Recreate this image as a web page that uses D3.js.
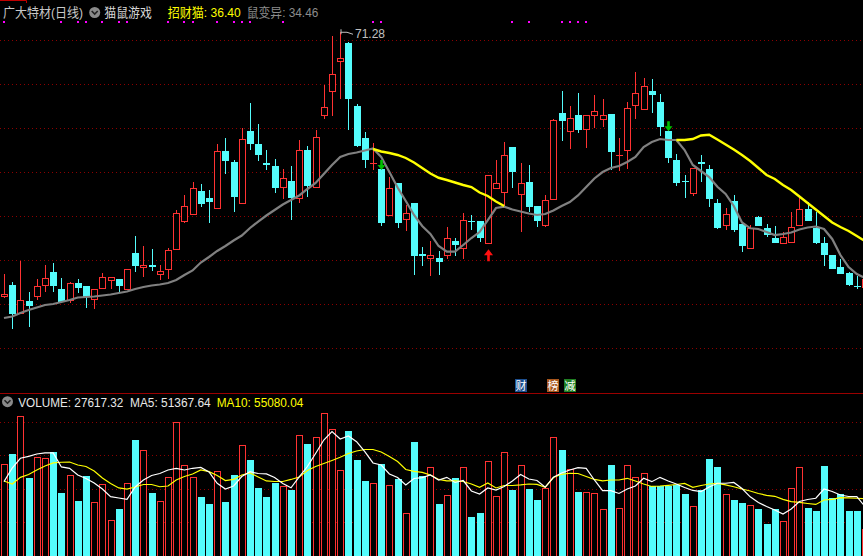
<!DOCTYPE html>
<html><head><meta charset="utf-8">
<script src="https://cdn.jsdelivr.net/npm/d3@7"></script>
<style>html,body{margin:0;padding:0;background:#000;overflow:hidden}</style>
</head><body><svg id="c" width="863" height="556"></svg>
<script>
// ---------- DATA ----------
const open = [27.38,29.16,24.44,26.49,27.38,29.21,31.33,28.44,26.61,29.49,
28.99,26.78,28.71,30.04,30.16,28.54,34.49,32.11,32.49,31.04,
31.78,35.11,39.78,40.94,44.83,43.66,41.94,51.49,49.66,42.78,
54.83,52.66,49.54,48.99,45.44,46.49,43.61,51.66,45.44,57.54,
61.54,66.54,69.54,58.99,53.66,49.44,48.44,40.83,46.16,40.21,
42.83,34.38,33.71,33.66,34.11,36.44,35.28,39.83,39.83,36.11,
45.38,44.71,52.11,44.28,46.33,42.33,39.11,43.44,57.83,54.78,
57.49,55.21,57.44,56.78,57.66,50.71,51.74,59.21,58.54,61.44,
59.66,54.88,49.99,46.49,44.54,49.71,48.49,42.83,39.21,43.16,
39.33,35.38,40.54,38.61,37.04,36.21,36.38,39.11,41.83,38.66,
36.16,34.16,32.16,31.21,28.94,28.88];
const high = [30.99,29.66,33.16,27.99,30.16,32.44,32.83,30.33,29.6,30.16,
29.05,28.5,31.16,30.55,30.2,31.85,37.33,35.66,35.16,32.49,
35.38,41.61,44.16,46.33,45.99,44.99,52.66,53.66,49.99,55.28,
59.49,55.99,51.66,50.16,48.44,49.04,53.33,52.33,54.99,62.44,
70.66,71.28,69.71,59.33,54.61,52.88,48.5,47.11,46.2,42.49,
42.9,35.49,36.49,34.88,38.88,37.04,41.11,40.78,39.9,47.55,
49.99,52.99,52.2,49.44,49.11,42.4,44.11,56.78,61.44,58.99,
61.16,57.55,60.83,60.11,57.7,53.66,59.66,64.61,63.66,63.49,
60.99,54.95,50.99,47.49,48.7,50.83,49.16,43.49,41.99,44.16,
39.4,39.11,40.71,39.33,38.99,37.99,41.28,43.88,42.99,41.33,
37.16,34.2,33.49,31.25,30.66,30.2];
const low = [26.94,21.88,24.33,22.21,26.66,28.04,28.04,26.11,26.2,27.78,
25.38,25.16,28.6,28.54,27.78,28.49,31.38,30.54,31.49,30.04,
30.11,34.99,39.54,40.9,42.21,39.54,41.88,47.74,41.38,42.74,
51.66,49.78,48.33,44.44,43.54,39.99,42.88,43.88,45.41,56.83,
57.38,60.21,54.99,52.16,48.71,48.33,39.04,40.74,38.71,38.21,
30.83,32.38,30.71,30.83,33.49,34.04,33.44,38.28,36.38,36.05,
45.28,42.21,45.38,38.04,41.38,38.78,38.88,43.41,53.21,51.88,
54.54,52.04,55.38,55.49,48.33,48.16,48.54,56.88,58.44,57.88,
53.99,49.54,45.66,43.71,44.04,46.33,42.21,38.54,38.33,38.04,
34.71,35.3,38.99,37.16,36.15,35.94,36.3,39.05,39.8,35.99,
32.38,31.78,30.98,28.99,28.44,28.8];
const close = [27.71,24.38,26.61,25.71,28.94,30.28,29.04,26.33,29.44,28.66,
27.16,28.44,30.49,30.49,28.99,31.78,32.38,32.49,32.21,31.44,
34.94,41.11,42.28,45.28,42.71,43.04,51.44,49.88,43.88,53.44,
52.71,50.88,49.21,45.38,46.94,43.71,51.61,45.66,53.78,58.78,
64.33,66.94,60.21,52.38,50.04,49.54,39.54,45.33,39.54,41.11,
34.04,34.04,34.11,33.04,36.94,35.83,39.94,39.71,37.04,47.49,
46.11,50.78,48.04,46.11,42.21,39.88,43.28,56.61,56.54,56.94,
55.04,57.49,58.11,57.44,51.38,50.88,58.61,61.11,62.28,60.88,
55.54,50.38,46.16,46.33,48.66,49.38,43.54,38.71,40.99,38.33,
35.71,38.61,39.04,37.49,36.21,37.11,38.83,41.83,39.88,36.21,
34.16,31.83,31.04,29.16,28.78,30.16];
// 鼠变异 (grey line)
const ratLine = [23.66,23.91,24.49,24.99,25.41,25.83,25.99,26.33,26.66,27.08,
27.16,27.24,27.41,27.58,27.83,28.08,28.49,28.83,29.08,29.24,
29.49,29.99,30.83,31.58,32.91,33.83,34.83,35.66,36.58,37.41,
38.66,39.74,40.74,41.66,42.58,43.33,44.08,45.16,46.16,47.66,
49.16,50.49,50.99,51.24,51.58,51.91,50.49,47.99,45.41,43.16,
40.83,38.99,37.66,35.66,34.71,34.71,35.83,36.99,37.99,39.99,
41.99,42.21,41.74,41.41,41.08,40.83,40.99,41.58,42.33,42.99,
44.08,45.49,46.91,47.99,48.66,48.99,49.66,50.49,52.16,52.99,
53.49,53.33,53.33,51.66,49.16,48.16,47.16,45.54,44.33,42.33,
39.58,38.61,38.49,37.99,37.49,37.66,37.91,38.41,38.74,38.91,
38.49,36.83,34.16,32.16,30.99,30.33];
// 招财猫 (yellow line, shown only on some stretches)
const _ = null;
const catLine = [_,_,_,_,_,_,_,_,_,_, _,_,_,_,_,_,_,_,_,_,
_,_,_,_,_,_,_,_,_,_, _,_,_,_,_,_,_,_,_,_,
_,_,_,_,_,51.83,51.41,51.16,50.83,50.33,
49.58,48.66,47.74,47.03,46.66,46.24,45.83,45.49,44.58,43.99,
43.08,42.33,_,_,_,_,_,_,_,_, _,_,_,_,_,_,_,_,_,_,
_,_,53.33,53.33,53.49,54.08,54.21,53.41,52.58,51.74,
50.83,49.83,48.66,47.49,46.83,45.83,44.99,43.91,42.83,41.74,
40.66,39.58,38.83,38.16,37.33,36.49];
// volume (thousands)
const volume = [102.6,114.3,156.8,87.2,110.2,109.4,116.2,69.9,89.9,61.3,
89.1,59.8,79.7,39.5,52.2,81.2,129.7,118.4,69.9,60.6,
88,150,101.2,88,65.4,57.5,94.8,60.1,90.6,124.1,
107.2,75.9,65.4,81.6,77.8,73.7,135.4,125.5,132.8,159.8,
141.8,95.5,139.9,107.2,83.5,80.9,102.6,78.6,85.7,47,
127.5,89.1,98.9,57.5,67.3,86.9,98.9,42.9,47.4,105.7,
66.2,115.8,73.3,101.2,74.4,62,75.2,132.8,118.4,96.7,
71.1,70.7,69.6,51.9,101.5,52.7,101.2,87.6,92.2,77.8,
78.2,78.2,79.3,68.8,54.9,73.3,108.3,99.3,68.5,62,
58.7,56.1,51.9,35,51.9,38,75.2,98.9,53,49.6,
100.4,64.3,69.1,49.6,49.6,29.3];
const volMA5 = [82.7,98.1,109.1,111.3,113.9,115.1,115.1,99.3,97.8,90.2,
86.3,81.2,74.4,65.8,64.3,62.8,76.7,84.6,89.7,91.9,
95.9,97.6,95.9,97.8,98.7,93.6,80.9,74.4,77.8,88.5,
94,91.9,91.4,87.4,80.7,75.8,88,99.8,114.5,129.7,
139.1,130.8,134.2,127.8,116.7,103.8,101.5,91.4,87.4,79,
86.3,87.2,90.2,84.6,87.6,81.8,84,72.2,68.8,75.6,
73.3,77.3,83.5,90.8,85.7,84,76.4,87.6,92.5,95.9,
98.5,97.8,84.6,72.5,72.5,69.4,74.4,77.8,86.5,82.7,
87.6,83.5,80.1,76.1,72.8,71.6,76.7,80.9,80.9,81.8,
75,65.6,59.2,54.7,50.8,46.2,51.9,60.3,62.6,64,
74.4,71.6,67.7,66,65.8,54.7];
const volMA10 = [83.5,80.1,87.6,90.8,95.9,100.4,103.8,104.6,104.9,101.5,
99.8,94.8,86.9,80.7,75.6,74.4,76.7,79.5,79.5,77,
77.8,84.6,88.5,91.4,95.9,94,89.7,84,85.2,90.2,
92.5,88,83.5,82.9,82.9,85.2,88,95.3,99.8,103.2,
106.6,110.2,114.5,117.3,119,119,116.2,111.1,105.5,96.4,
94.4,93.1,90.2,85.2,83.7,83.5,82.9,80.1,76.4,81.2,
75.6,78.4,78.4,79,80.1,79.7,76.4,87.4,91,92.2,
91.9,88.5,85.2,83.5,84.6,84.6,86.5,83.5,80.1,77.3,
77.8,78.6,79.5,80.7,76.4,78.4,80.1,80.7,79,77,
74.4,72.2,69.4,67.3,66.2,62.8,60.3,59.4,58.1,57,
62,62.8,64.6,64.5,64,63.4];
// signals
const dotSignals = [0,7,9,10,12,14,15,20,22,23,26,28,29,30,34,45,46,62,64,68,69,70,71];
const sellArrows = [46,81];
const buyArrows = [59];
const badges = [{i:63,t:'财',k:'cai'},{i:67,t:'榜',k:'bang'},{i:69,t:'减',k:'jian'}];
// header values
const titleText = '广大特材(日线)';
const indicatorName = '猫鼠游戏';
const catLabel = '招财猫', catValue = 36.40;
const ratLabel = '鼠变异', ratValue = 34.46;
const volLabels = [{t:'VOLUME', v:27617.32},{t:'MA5', v:51367.64},{t:'MA10', v:55080.04}];

// ---------- DRAW ----------
const W=863,H=556;
const UP='#ff3232', DN='#54fcfc', GRID='#8c0000';
const badgeColor = {cai:'#1d4f8f', bang:'#a8561c', jian:'#1f7f22'};
const svg = d3.select('#c');
svg.append('rect').attr('width',W).attr('height',H).attr('fill','#000');

const N = open.length;
const idx = d3.range(N);
const x = d3.scaleLinear().domain([0, N-1]).range([4, 865]);
const yP = d3.scaleLinear().domain([76.66, 11.66]).range([0, 390]);
const yV = d3.scaleLinear().domain([0, 150]).range([555, 422]);

// grid lines
const grid = svg.append('g').attr('stroke',GRID).attr('stroke-dasharray','1,3');
d3.range(8).forEach(k=>{
  const yy = 40 + 44*k + 0.5;
  grid.append('line').attr('x1',0).attr('x2',W).attr('y1',yy).attr('y2',yy);
});
[37.5,75,112.5,150].forEach(v=>{
  const yy = Math.round(yV(v)) + 0.5;
  grid.append('line').attr('x1',0).attr('x2',W).attr('y1',yy).attr('y2',yy);
});
// panel separator
svg.append('line').attr('x1',0).attr('x2',W).attr('y1',393.5).attr('y2',393.5).attr('stroke','#9a0000');
svg.append('path').attr('d','M0,0.5H26.5V3').attr('fill','none').attr('stroke','#c00000');

// volume bars
const vb = svg.append('g');
idx.forEach(i=>{
  const up = close[i] >= open[i];
  const xc = Math.round(x(i));
  const yt = Math.round(yV(volume[i]));
  if (up) {
    vb.append('rect').attr('x',xc-3+0.5).attr('y',yt+0.5).attr('width',6).attr('height',H+2-yt)
      .attr('fill','#000').attr('stroke',UP);
  } else {
    vb.append('rect').attr('x',xc-3).attr('y',yt).attr('width',7).attr('height',H+2-yt).attr('fill',DN);
  }
});
const lineV = arr => d3.line().x((d,i)=>x(i)).y(d=>yV(d))(arr);
svg.append('path').attr('d',lineV(volMA10)).attr('fill','none').attr('stroke','#ffff00').attr('stroke-width',1.2);
svg.append('path').attr('d',lineV(volMA5)).attr('fill','none').attr('stroke','#ffffff').attr('stroke-width',1.2);

// candles
const cg = svg.append('g');
idx.forEach(i=>{
  const o=open[i], c=close[i], h=high[i], l=low[i];
  const up = c >= o;
  const xc = Math.round(x(i));
  const yt = Math.round(yP(Math.max(o,c))), yb = Math.round(yP(Math.min(o,c)));
  const yh = Math.round(yP(h)), yl = Math.round(yP(l));
  const col = up ? UP : DN;
  if (up) {
    if (yb - yt < 2) {
      cg.append('line').attr('x1',xc+0.5).attr('x2',xc+0.5).attr('y1',yh).attr('y2',yl).attr('stroke',col);
      cg.append('rect').attr('x',xc-3).attr('y',yt).attr('width',7).attr('height',Math.max(1,yb-yt)).attr('fill',col);
    } else {
      cg.append('line').attr('x1',xc+0.5).attr('x2',xc+0.5).attr('y1',yh).attr('y2',yt).attr('stroke',col);
      cg.append('line').attr('x1',xc+0.5).attr('x2',xc+0.5).attr('y1',yb).attr('y2',yl).attr('stroke',col);
      cg.append('rect').attr('x',xc-3+0.5).attr('y',yt+0.5).attr('width',6).attr('height',yb-yt)
        .attr('fill','#000').attr('stroke',col);
    }
  } else {
    cg.append('line').attr('x1',xc+0.5).attr('x2',xc+0.5).attr('y1',yh).attr('y2',yl).attr('stroke',col);
    cg.append('rect').attr('x',xc-3).attr('y',yt).attr('width',7).attr('height',Math.max(1,yb-yt)).attr('fill',col);
  }
});

// indicator lines
const lineP = d3.line().defined(d=>d!=null).x((d,i)=>x(i)).y(d=>yP(d));
svg.append('path').attr('d',lineP(ratLine)).attr('fill','none').attr('stroke','#808080').attr('stroke-width',2.2);
svg.append('path').attr('d',lineP(catLine)).attr('fill','none').attr('stroke','#ffff00').attr('stroke-width',2.4);

// arrows
sellArrows.forEach(i=>{
  const xc = Math.round(x(i)) + 0.5, tip = yP(high[i]) + 1;
  svg.append('path').attr('fill','#00c000')
    .attr('d',`M${xc-1.3},${tip-10}H${xc+1.3}V${tip-5}H${xc+4}L${xc},${tip}L${xc-4},${tip-5}H${xc-1.3}Z`);
});
buyArrows.forEach(i=>{
  const xc = Math.round(x(i)) + 0.5, tip = yP(low[i]) + 5.5;
  svg.append('path').attr('fill','#ff1010')
    .attr('d',`M${xc},${tip}L${xc+4.5},${tip+6}H${xc+1.3}V${tip+12}H${xc-1.3}V${tip+6}H${xc-4.5}Z`);
});

// magenta signal dots
dotSignals.forEach(i=>{
  svg.append('rect').attr('x',Math.round(x(i))-1).attr('y',21).attr('width',2).attr('height',2).attr('fill','#ff00ff');
});

// badges
badges.forEach(b=>{
  const xc = Math.round(x(b.i));
  svg.append('rect').attr('x',xc-6).attr('y',379).attr('width',12).attr('height',13).attr('fill',badgeColor[b.k]);
  svg.append('text').attr('x',xc).attr('y',390).attr('text-anchor','middle')
    .attr('font-family','"Noto Sans CJK SC"').attr('font-size',11).attr('fill','#fff').text(b.t);
});

// max label
const mi = d3.maxIndex(high);
const mx = Math.round(x(mi)) + 1, my = yP(high[mi]);
svg.append('path').attr('d',`M${mx},${my-3}V${my+2}M${mx},${my}H${mx+6}L${mx+12},${my+2}`)
  .attr('fill','none').attr('stroke','#c0c0c0');
svg.append('text').attr('x',mx+14).attr('y',my+6).attr('font-family','"Liberation Sans", sans-serif')
  .attr('font-size',12).attr('fill','#c0c0c0').text(d3.format('.2f')(high[mi]));

// header
const F = '"Liberation Sans","Noto Sans CJK SC",sans-serif';
function txt(s, x0, y0, w, col, size) {
  return svg.append('text').attr('x',x0).attr('y',y0).attr('font-family',F).attr('font-size',size||12)
    .attr('fill',col).attr('textLength',w).attr('lengthAdjust','spacingAndGlyphs').text(s);
}
function icon(cx, cy) {
  svg.append('circle').attr('cx',cx).attr('cy',cy).attr('r',5.5).attr('fill','#8a8a8a');
  svg.append('path').attr('d',`M${cx-3},${cy-1.5}L${cx},${cy+1.5}L${cx+3},${cy-1.5}`)
    .attr('fill','none').attr('stroke','#222').attr('stroke-width',1.6);
}
txt(titleText, 3, 16.5, 80, '#c8c8c8', 13);
icon(94.7, 12.5);
txt(indicatorName, 104.3, 16.5, 47.5, '#d8d8d8', 13);
txt(`${catLabel}: ${d3.format('.2f')(catValue)}`, 167.7, 16.5, 73, '#ffff00', 13);
txt(`${ratLabel}: ${d3.format('.2f')(ratValue)}`, 246.7, 16.5, 71.6, '#8c8c8c', 13);

icon(7.5, 401.7);
const vx = [18.3, 130, 216.7], vw = [105, 80.7, 86.6], vc = ['#e8e8e8','#e8e8e8','#ffff00'];
volLabels.forEach((d,k)=>{
  txt(`${d.t}: ${d3.format('.2f')(d.v)}`, vx[k], 406.5, vw[k], vc[k], 12.5);
});
</script></body></html>
